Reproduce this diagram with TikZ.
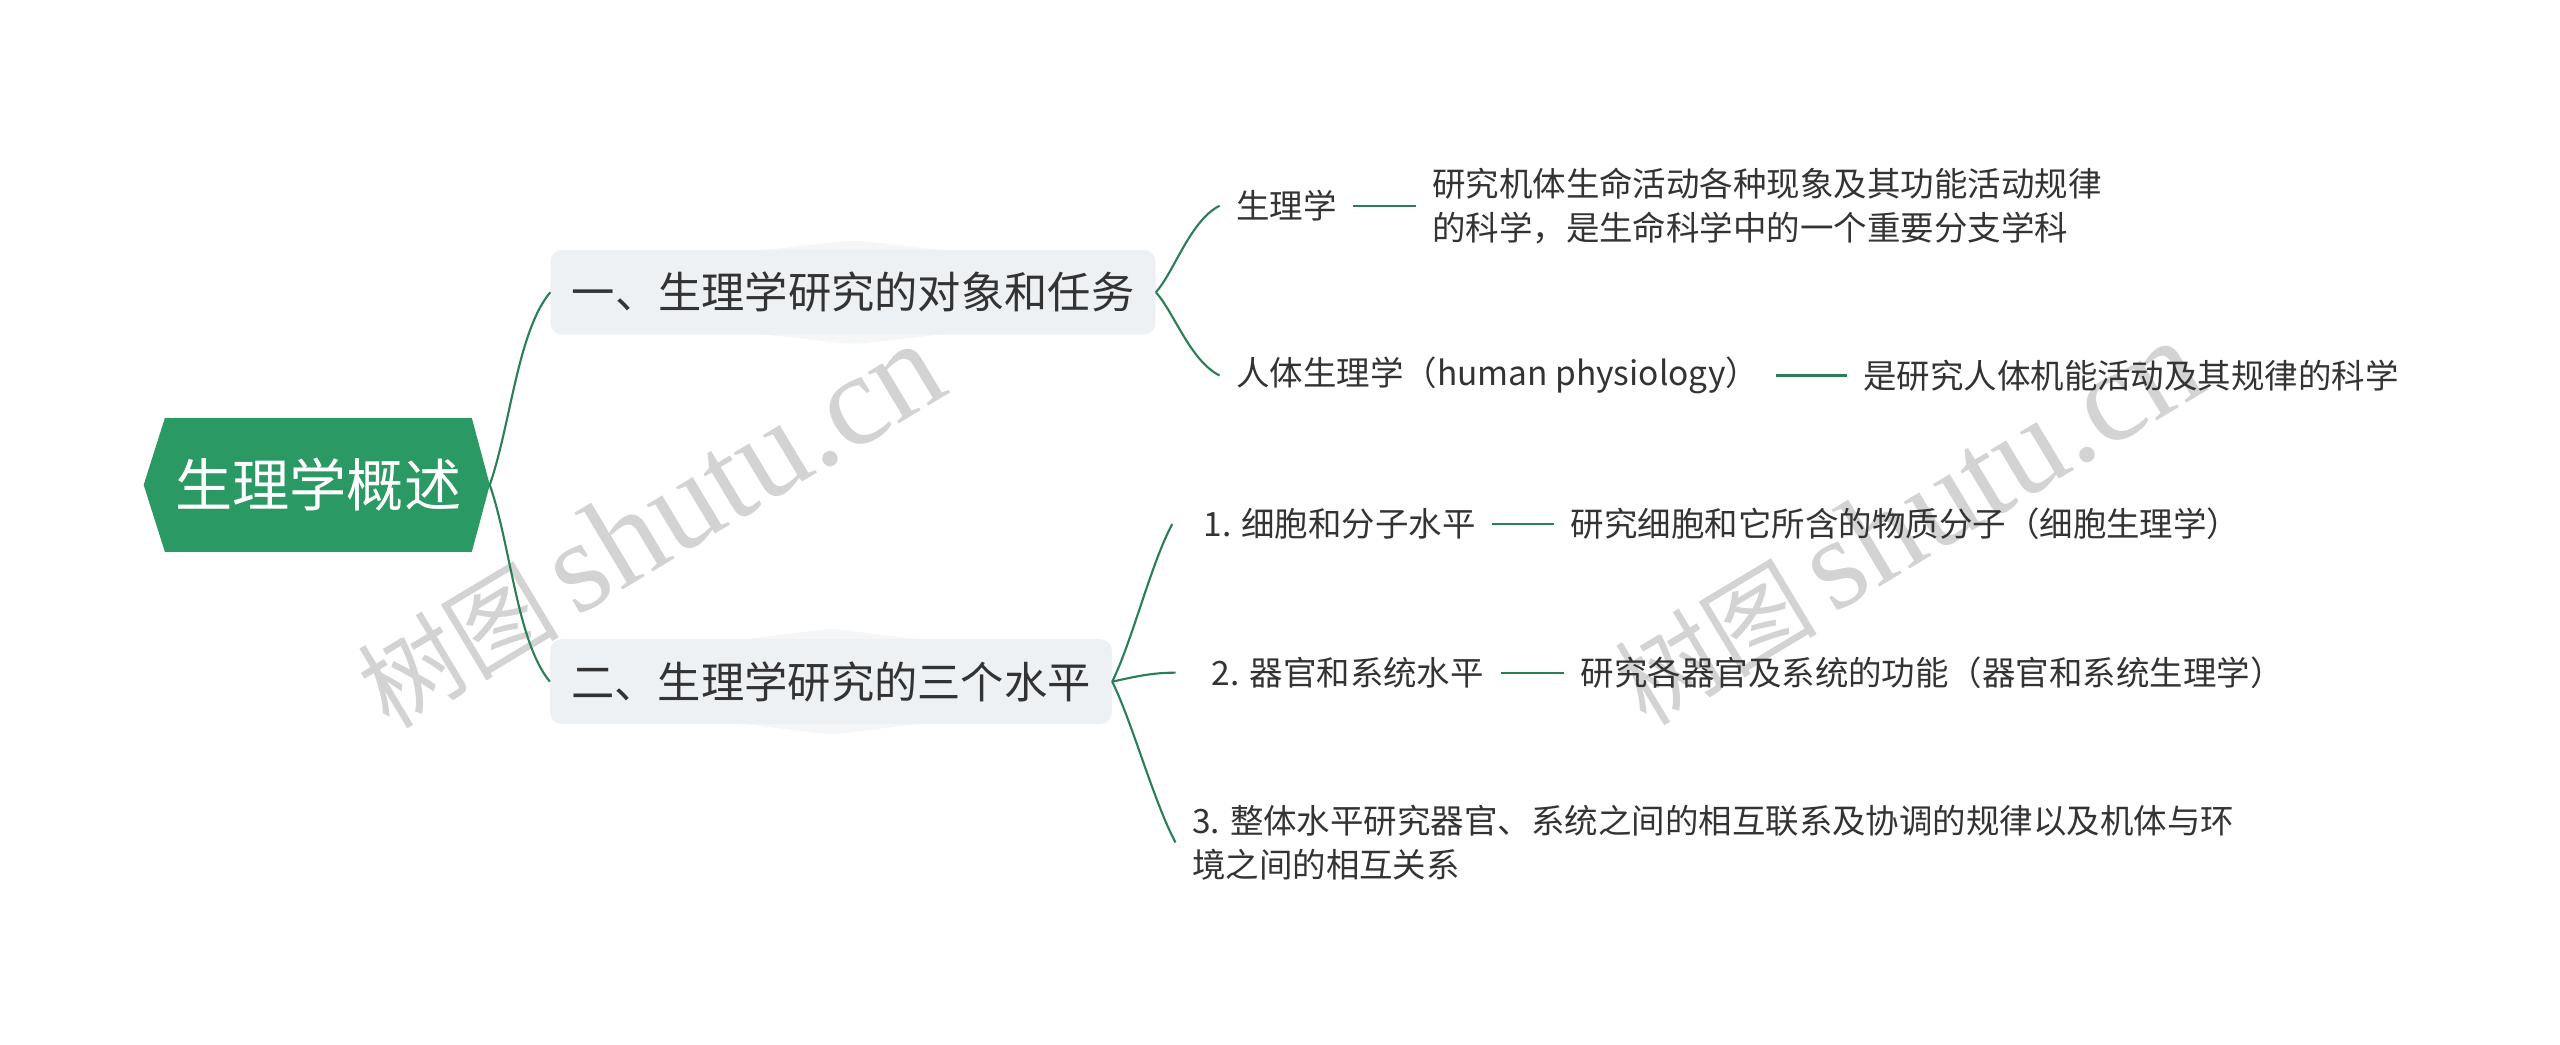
\documentclass[tikz,border=0pt]{standalone}
\usepackage{fontspec}
\setmainfont{Noto Sans CJK SC}
\newfontfamily\wmlatin{Liberation Serif}
\definecolor{rootgreen}{HTML}{2A9964}
\definecolor{linegreen}{HTML}{2A7F57}
\definecolor{boxgray}{HTML}{EEF1F4}
\definecolor{halogray}{HTML}{F4F6F8}
\definecolor{txt}{HTML}{333333}
\definecolor{wm}{HTML}{D3D3D3}
\begin{document}
\begin{tikzpicture}[x=1pt,y=-1pt,
  conn/.style={draw=linegreen,line width=1.3pt},
  branch/.style={rounded corners=7pt,fill=boxgray,text=txt,
    font=\fontsize{26.5}{30}\selectfont,inner xsep=13pt,inner ysep=0pt,
    minimum height=52pt},
  halo/.style={fill=halogray,rounded corners=7pt},
  leaf/.style={text=txt,font=\fontsize{20.5}{27}\selectfont,inner xsep=10pt,
    inner ysep=2pt,anchor=west,align=left},
  wmark/.style={text=wm,rotate=31,inner sep=0pt}]
\useasboundingbox (0,0) rectangle (1568,640);
% watermarks
\node[wmark] (wm1) at (398,322) {{\fontsize{62}{62}\selectfont 树图}\hspace{10pt}{\wmlatin\fontsize{80}{80}\selectfont shutu.cn}};
\node[wmark] (wm2) at (1168,320) {{\fontsize{62}{62}\selectfont 树图}\hspace{10pt}{\wmlatin\fontsize{80}{80}\selectfont shutu.cn}};
% root
\fill[rootgreen] (88,297) -- (101,256) -- (289,256) -- (300,297) -- (289,338) -- (101,338) -- cycle;
\node[text=white,font=\fontsize{35}{40}\selectfont,inner sep=0pt] (root) at (195,297) {生理学概述};
\coordinate (rootE) at (300,297);
% branches
\path (522.5,179) coordinate (b1c) (509,417.5) coordinate (b2c);
\fill[halo] (337,168) -- (522.5,147) -- (708,168) -- (708,190) -- (522.5,211) -- (337,190) -- cycle;
\fill[halo] (337,406) -- (509,385) -- (681,406) -- (681,429) -- (509,450) -- (337,429) -- cycle;
\node[branch] (b1) at (b1c) {一、生理学研究的对象和任务};
\node[branch] (b2) at (b2c) {二、生理学研究的三个水平};
% leaves
\node[leaf] (c11) at (747,126) {生理学};
\node[leaf] (d11) at (867,126) {研究机体生命活动各种现象及其功能活动规律\\的科学，是生命科学中的一个重要分支学科};
\node[leaf] (c12) at (747,230) {人体生理学（human physiology）};
\node[leaf] (d12) at (1131,230) {是研究人体机能活动及其规律的科学};
\node[leaf] (c21) at (727,321) {1. 细胞和分子水平};
\node[leaf] (d21) at (952,321) {研究细胞和它所含的物质分子（细胞生理学）};
\node[leaf] (c22) at (732,412) {2. 器官和系统水平};
\node[leaf] (d22) at (958,412) {研究各器官及系统的功能（器官和系统生理学）};
\node[leaf] (c23) at (720,516) {3. 整体水平研究器官、系统之间的相互联系及协调的规律以及机体与环\\境之间的相互关系};
% connectors
\draw[conn] (rootE) .. controls +(13,-38) and +(-20,24) .. (b1.west);
\draw[conn] (rootE) .. controls +(13,38) and +(-20,-24) .. (b2.west);
\draw[conn] (b1.east) .. controls +(11,-12) and +(-18,9) .. (c11.west);
\draw[conn] (b1.east) .. controls +(11,12) and +(-18,-9) .. (c12.west);
\draw[conn] (b2.east) .. controls +(12,-24) and +(-13,24) .. ([xshift=-9pt]c21.west);
\draw[conn] (b2.east) .. controls +(14,-3) and +(-15,0) .. ([xshift=-12pt]c22.west);
\draw[conn] (b2.east) .. controls +(12,24) and +(-13,-24) .. (c23.west);
\draw[conn] (c11.east) -- (d11.west);
\draw[conn] (c12.east) -- (d12.west);
\draw[conn] (c21.east) -- (d21.west);
\draw[conn] (c22.east) -- (d22.west);
\end{tikzpicture}
\end{document}
